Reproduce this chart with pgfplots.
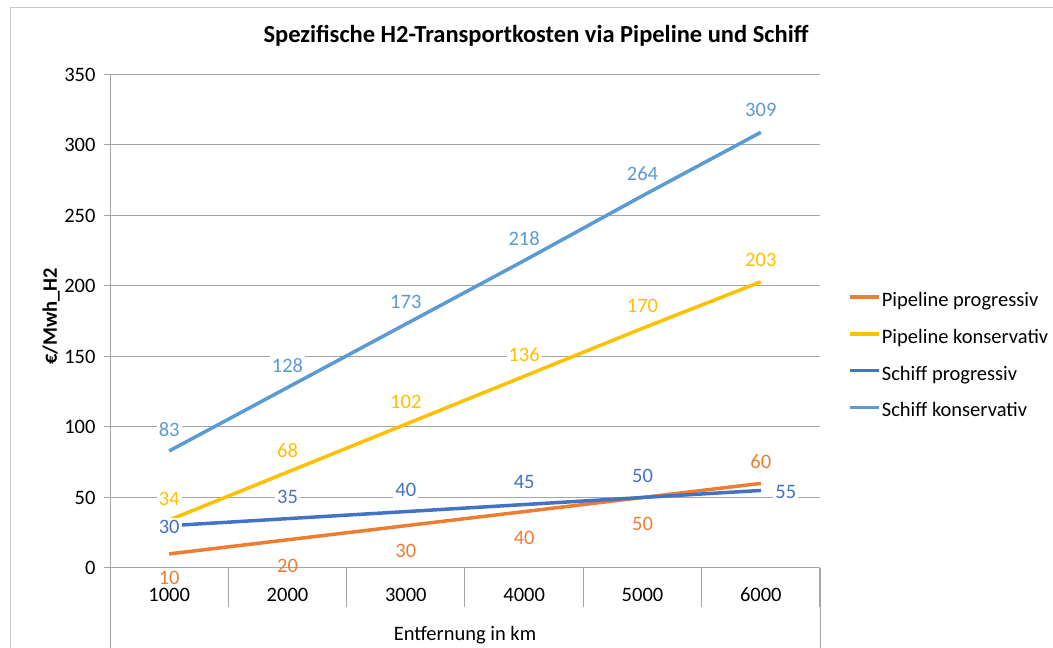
\documentclass[border=0pt]{standalone}
\usepackage{pgfplots}
\pgfplotsset{compat=1.18}
\usepackage{pgfplotstable}
\usepackage{fontspec}
\setmainfont{Carlito}
\definecolor{cOrange}{HTML}{ED7D31}
\definecolor{cYellow}{HTML}{FFC000}
\definecolor{cBlue}{HTML}{4472C4}
\definecolor{cLight}{HTML}{5B9BD5}
\definecolor{cGrid}{RGB}{165,165,165}
\definecolor{cBorder}{RGB}{200,200,200}

\pgfplotstableread{
x y dx dy
1 10 0 -24
2 20 0 -26
3 30 0 -25
4 40 0 -26
5 50 0 -26
6 60 0 22
}\pipeprog
\pgfplotstableread{
x y dx dy
1 34 0 21
2 68 0 22
3 102 0 22
4 136 0 22
5 170 0 22
6 203 0 22
}\pipekons
\pgfplotstableread{
x y dx dy
1 30 0 -1
2 35 0 22
3 40 0 22
4 45 0 23
5 50 0 22
6 55 25 -2
}\schiffprog
\pgfplotstableread{
x y dx dy
1 83 0 21
2 128 0 22
3 173 0 22
4 218 0 22
5 264 0 22
6 309 0 22
}\schiffkons

\newcommand{\fs}{\fontsize{20.5}{24}\selectfont}

\begin{document}
\begin{tikzpicture}
\begin{axis}[
  at={(110pt,80pt)}, anchor=south west,
  scale only axis, width=710pt, height=493.5pt,
  xmin=0.5, xmax=6.5, ymin=0, ymax=350,
  /pgf/number format/assume math mode=true,
  axis x line*=bottom, axis y line*=left,
  axis line style={cGrid, line width=1pt},
  ytick={0,50,...,350},
  ymajorgrids, grid style={cGrid, line width=1pt},
  y tick style={cGrid, line width=1pt},
  ytick align=outside, major tick length=6pt,
  yticklabel style={font=\fs, anchor=east, xshift=-5pt},
  xtick={1,...,6},
  xticklabels={1000,2000,3000,4000,5000,6000},
  x tick style={draw=none},
  xticklabel style={font=\fs, anchor=center, yshift=-27pt},
  extra x ticks={0.5,1.5,2.5,3.5,4.5,5.5,6.5},
  extra x tick labels={},
  extra x tick style={x tick style={draw=cGrid, line width=1pt}, major tick length=39pt, xtick align=outside, xmajorgrids=false},
  xlabel={Entfernung in km},
  xlabel style={font=\fs, at={(axis description cs:0.5,-0.136)}, anchor=center},
  ylabel={\textbf{€/Mwh\_H2}},
  ylabel style={font=\fs, at={(axis description cs:-0.083,0.51)}, anchor=center},
  title={Spezifische H2-Transportkosten via Pipeline und Schiff},
  title style={font=\bfseries\fontsize{24.5}{28}\selectfont, at={(axis description cs:0.6,1.066)}, anchor=center},
  legend style={at={(axis description cs:1.039,0.431)}, anchor=west, draw=none, fill=none,
    font=\fs, row sep=18pt, inner sep=0pt,
    nodes={inner sep=1.5pt}},
  legend cell align=left,
  legend image code/.code={\draw[#1, line width=3.5pt] (0pt,0.3em) -- (29pt,0.3em);},
  every axis plot/.append style={line width=3.5pt, no marks, line join=round},
  clip=false,
]
\addplot[cOrange] table[x=x,y=y] {\pipeprog};
\addlegendentry{Pipeline progressiv}
\addplot[cYellow] table[x=x,y=y] {\pipekons};
\addlegendentry{Pipeline konservativ}
\addplot[cBlue] table[x=x,y=y] {\schiffprog};
\addlegendentry{Schiff progressiv}
\addplot[cLight] table[x=x,y=y] {\schiffkons};
\addlegendentry{Schiff konservativ}

\addplot[draw=none, forget plot, nodes near coords, point meta=explicit,
  visualization depends on={\thisrow{dx} \as \dx},
  visualization depends on={\thisrow{dy} \as \dy},
  nodes near coords style={font=\fs, text=cOrange, anchor=center, inner sep=1.5pt, xshift=\dx pt, yshift=\dy pt}]
  table[x=x,y=y,meta=y] {\pipeprog};
\addplot[draw=none, forget plot, nodes near coords, point meta=explicit,
  visualization depends on={\thisrow{dx} \as \dx},
  visualization depends on={\thisrow{dy} \as \dy},
  nodes near coords style={font=\fs, text=cYellow, fill=white, anchor=center, inner sep=2pt, xshift=\dx pt, yshift=\dy pt}]
  table[x=x,y=y,meta=y] {\pipekons};
\addplot[draw=none, forget plot, nodes near coords, point meta=explicit,
  visualization depends on={\thisrow{dx} \as \dx},
  visualization depends on={\thisrow{dy} \as \dy},
  nodes near coords style={font=\fs, text=cBlue, fill=white, anchor=center, inner sep=2pt, xshift=\dx pt, yshift=\dy pt}]
  table[x=x,y=y,meta=y] {\schiffprog};
\addplot[draw=none, forget plot, nodes near coords, point meta=explicit,
  visualization depends on={\thisrow{dx} \as \dx},
  visualization depends on={\thisrow{dy} \as \dy},
  nodes near coords style={font=\fs, text=cLight, fill=white, anchor=center, inner sep=2pt, xshift=\dx pt, yshift=\dy pt}]
  table[x=x,y=y,meta=y] {\schiffkons};
\end{axis}
\draw[cGrid, line width=1pt] (110pt,80pt) -- (110pt,0pt);
\draw[cGrid, line width=1pt] (820pt,80pt) -- (820pt,0pt);
\draw[cBorder,line width=1pt] (10pt,0pt) -- (10pt,640pt) -- (1053pt,640pt);
\pgfresetboundingbox
\path[use as bounding box] (0pt,0pt) rectangle (1053pt,648pt);
\end{tikzpicture}
\end{document}
